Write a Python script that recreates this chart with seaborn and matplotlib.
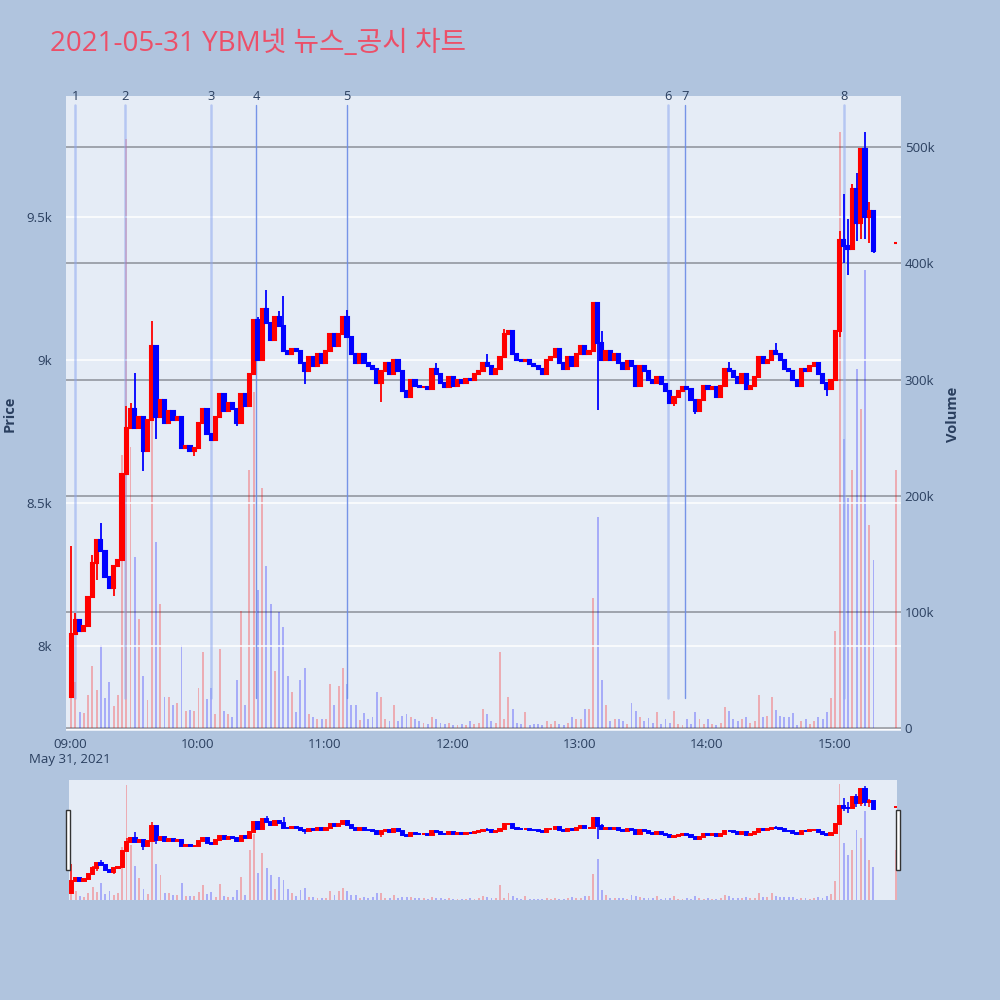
import numpy as np
import pandas as pd
import matplotlib
matplotlib.use("Agg")
import matplotlib.pyplot as plt
import matplotlib.transforms as mtransforms
from matplotlib.patches import Rectangle
import seaborn as sns

sns.set_theme(style="white")
plt.rcParams["font.family"] = ["Open Sans", "Noto Sans CJK KR", "DejaVu Sans"]

# ===============================
# 1. Data: YBM넷 2021-05-31, 2-minute bars (minutes after 09:00)
# ===============================

bar_minutes = list(range(0, 380, 2))
first_open = 7820

close = [
    8040, 8090, 8050, 8070, 8170, 8290, 8370, 8330, 8240, 8200,
    8280, 8300, 8600, 8760, 8830, 8760, 8800, 8680, 8790, 9050,
    8800, 8860, 8780, 8820, 8790, 8800, 8690, 8700, 8680, 8690,
    8780, 8830, 8740, 8720, 8800, 8880, 8820, 8850, 8830, 8780,
    8880, 8840, 8950, 9140, 9000, 9180, 9130, 9070, 9150, 9120,
    9030, 9020, 9040, 9030, 8990, 8960, 9010, 8980, 9020, 8990,
    9030, 9090, 9050, 9090, 9150, 9080, 9020, 8990, 9020, 8990,
    8980, 8970, 8920, 8960, 8990, 8950, 9000, 8960, 8890, 8870,
    8930, 8910, 8905, 8905, 8900, 8970, 8950, 8920, 8905, 8940,
    8910, 8930, 8920, 8935, 8930, 8950, 8960, 8990, 8980, 8950,
    8970, 9010, 9090, 9100, 9020, 9000, 8995, 9000, 8985, 8980,
    8970, 8950, 9000, 9010, 9040, 8990, 8970, 9010, 8980, 9020,
    9050, 9020, 9030, 9200, 9060, 9000, 9030, 9000, 9020, 8990,
    8970, 8995, 8980, 8910, 8980, 8960, 8930, 8920, 8940, 8915,
    8890, 8850, 8870, 8890, 8905, 8900, 8860, 8820, 8860, 8910,
    8900, 8905, 8870, 8910, 8970, 8960, 8940, 8920, 8950, 8900,
    8910, 8940, 9010, 8990, 9000, 9030, 9020, 9000, 8970, 8960,
    8930, 8910, 8970, 8960, 8980, 8990, 8950, 8920, 8900, 8930,
    9100, 9420, 9400, 9390, 9600, 9480, 9740, 9500, 9520, 9380,
]

wick_high = {0: 8350, 1: 8115, 5: 8318, 7: 8428, 13: 8840, 14: 8850, 15: 8953,
             19: 9138, 44: 9150, 46: 9245, 49: 9170, 50: 9224, 65: 9174,
             86: 8988, 98: 9021, 102: 9110, 124: 9203, 125: 9100, 155: 8993,
             166: 9060, 181: 9453, 182: 9581, 183: 9495, 184: 9617, 185: 9653,
             187: 9798, 188: 9553, 189: 9474}
wick_low = {0: 7815, 6: 8230, 10: 8172, 13: 8703, 17: 8610, 20: 8724, 29: 8665,
            39: 8767, 55: 8917, 73: 8853, 124: 8824, 142: 8838, 147: 8810,
            178: 8874, 181: 9081, 182: 9338, 183: 9298, 185: 9417, 186: 9424,
            187: 9424, 188: 9410, 189: 9374}

volume_k = [
    44, 40, 14, 13, 29, 54, 33, 72, 26, 40,
    19, 29, 235, 507, 242, 147, 94, 45, 24, 330,
    160, 107, 27, 27, 20, 22, 72, 15, 16, 15,
    35, 66, 25, 35, 12, 68, 15, 12, 10, 42,
    101, 20, 222, 289, 119, 207, 140, 107, 49, 100,
    87, 45, 31, 14, 42, 52, 12, 10, 8, 8,
    8, 38, 20, 36, 52, 38, 20, 20, 7, 13,
    8, 10, 31, 27, 8, 6, 20, 6, 11, 12,
    10, 8, 6, 5, 4, 10, 8, 5, 4, 5,
    3, 3, 4, 3, 6, 4, 5, 17, 12, 6,
    5, 66, 8, 27, 17, 5, 4, 14, 3, 4,
    4, 3, 6, 4, 6, 4, 3, 5, 10, 8,
    8, 17, 17, 112, 182, 42, 20, 6, 8, 8,
    6, 4, 22, 15, 10, 6, 9, 5, 14, 4,
    8, 5, 15, 4, 3, 8, 4, 14, 8, 4,
    8, 4, 3, 5, 18, 15, 8, 6, 8, 10,
    5, 6, 29, 10, 11, 27, 16, 11, 10, 10,
    13, 3, 6, 8, 4, 6, 10, 8, 14, 26,
    84, 513, 249, 198, 222, 309, 275, 394, 175, 145,
]

# closing auction print
closing_minute = 389
closing_price = 9410
closing_volume_k = 222

# news / disclosure markers
news_minutes = [2.4, 25.8, 66.3, 87.8, 130.6, 281.7, 289.8, 364.6]
news_labels = ["1", "2", "3", "4", "5", "6", "7", "8"]
news_kind = ["a", "a", "a", "b", "b", "a", "b", "a"]

time_ticks = [0, 60, 120, 180, 240, 300, 360]
time_labels = ["09:00\nMay 31, 2021", "10:00", "11:00", "12:00", "13:00", "14:00", "15:00"]
price_ticks = [8000, 8500, 9000, 9500]
price_labels = ["8k", "8.5k", "9k", "9.5k"]
volume_ticks = [0, 100, 200, 300, 400, 500]
volume_labels = ["0", "100k", "200k", "300k", "400k", "500k"]

# ===============================
# 2. Prepare frame
# ===============================

opens = [first_open] + close[:-1]
highs = [max(wick_high.get(i, 0), o, c) for i, (o, c) in enumerate(zip(opens, close))]
lows = [min(wick_low.get(i, 99999), o, c) for i, (o, c) in enumerate(zip(opens, close))]

df = pd.DataFrame({
    "minute": np.array(bar_minutes) + 0.5,
    "open": opens, "high": highs, "low": lows, "close": close,
    "volume": volume_k,
})
df.loc[len(df)] = [closing_minute, closing_price, closing_price, closing_price,
                   closing_price, closing_volume_k]
df["direction"] = np.where(df["close"] >= df["open"], "up", "down")

paper = "#B0C4DE"
plot_bg = "#E5ECF6"
text_c = "#2A3F5F"
candle_colors = {"up": "#FF0000", "down": "#0000FF"}


def draw_candles(ax, data, body_w, lw, edge_lw):
    colors = data["direction"].map(candle_colors).tolist()
    ax.vlines(data["minute"], data["low"], data["high"], colors=colors,
              linewidth=lw, zorder=3)
    bottom = data[["open", "close"]].min(axis=1)
    height = (data["close"] - data["open"]).abs()
    ax.bar(data["minute"], height, bottom=bottom, width=body_w, color=colors,
           edgecolor=colors, linewidth=edge_lw, zorder=3)


def draw_volume(ax, data, alpha):
    sns.barplot(data=data, x="minute", y="volume", hue="direction",
                hue_order=["up", "down"], palette=candle_colors, orient="x",
                native_scale=True, width=0.45, saturation=1, alpha=alpha,
                linewidth=0, errorbar=None, legend=False, ax=ax)
    ax.set_xlabel("")
    ax.set_ylabel("")


# ===============================
# 3. Main chart
# ===============================

fig = plt.figure(figsize=(10, 10), dpi=100, facecolor=paper)

ax_p = fig.add_axes([0.066, 0.269, 0.8345, 0.635])
ax_v = ax_p.twinx()
ax_p.set_zorder(2)
ax_v.set_zorder(1)
ax_p.patch.set_visible(False)
ax_v.patch.set_visible(True)
ax_v.patch.set_facecolor(plot_bg)

draw_volume(ax_v, df, 0.27)
ax_v.set_axisbelow(True)
ax_v.yaxis.grid(True, color="#8C9099", linewidth=1.1)
ax_v.axhline(0, color="white", linewidth=2, zorder=0.5)

draw_candles(ax_p, df, 1.5, 1.3, 1.5)
ax_p.yaxis.grid(True, color="white", linewidth=1.1)
ax_p.xaxis.grid(False)

vline_top, vline_bottom = 9893, 7818
trans = mtransforms.blended_transform_factory(ax_p.transData, ax_p.transAxes)
for m, lab, kind in zip(news_minutes, news_labels, news_kind):
    if kind == "a":
        ax_p.plot([m, m], [vline_bottom, vline_top], color="#8FA8F0",
                  linewidth=1.8, alpha=0.55, zorder=1)
    else:
        ax_p.plot([m, m], [vline_bottom, vline_top], color="#6A8BE6",
                  linewidth=1.0, alpha=0.9, zorder=1)
    ax_p.text(m, 1.0, lab, transform=trans, ha="center", va="center",
              fontsize=9.3, color=text_c)

ax_p.set_xlim(-1.9, 391.2)
ax_p.set_ylim(7701, 9924)
ax_v.set_ylim(-2.3, 544.1)

ax_p.set_xticks(time_ticks, time_labels)
ax_p.set_yticks(price_ticks, price_labels)
ax_v.set_yticks(volume_ticks, volume_labels)
ax_p.tick_params(axis="x", length=0, pad=5, labelsize=9.5, labelcolor=text_c)
ax_p.tick_params(axis="y", length=0, pad=10, labelsize=9.5, labelcolor=text_c)
ax_v.tick_params(axis="y", length=0, pad=3, labelsize=9.5, labelcolor=text_c)
for ax in (ax_p, ax_v):
    for s in ax.spines.values():
        s.set_visible(False)

# ===============================
# 4. Range slider
# ===============================

ax_s = fig.add_axes([0.069, 0.10, 0.828, 0.12])
ax_sv = ax_s.twinx()
ax_s.set_zorder(2)
ax_sv.set_zorder(1)
ax_s.patch.set_visible(False)
ax_sv.patch.set_visible(True)
ax_sv.patch.set_facecolor(plot_bg)

draw_volume(ax_sv, df, 0.27)
draw_candles(ax_s, df, 1.5, 1.1, 1.4)
ax_s.set_xlim(-0.6, 389.6)
ax_s.set_ylim(7690, 9910)
ax_sv.set_ylim(-2, 531)
for ax in (ax_s, ax_sv):
    ax.set_xticks([])
    ax.set_yticks([])
    ax.grid(False)
    for s in ax.spines.values():
        s.set_visible(False)

for hx in (0.0655, 0.8955):
    fig.add_artist(Rectangle((hx, 0.130), 0.0042, 0.060, transform=fig.transFigure,
                             facecolor="white", edgecolor="#333333", linewidth=1,
                             zorder=10))

# ===============================
# 5. Text
# ===============================

fig.text(0.05, 0.949, "2021-05-31 YBM넷 뉴스_공시 차트", fontsize=20,
         color="#EC4F68", ha="left", va="baseline",
         family=["Open Sans", "Noto Sans CJK KR"])
fig.text(0.0095, 0.586, "Price", rotation=90, ha="center", va="center",
         fontsize=10.5, fontweight="bold", color=text_c)
fig.text(0.953, 0.586, "Volume", rotation=90, ha="center", va="center",
         fontsize=10.5, fontweight="bold", color=text_c)

fig.savefig("out.png", dpi=100, facecolor=paper)
